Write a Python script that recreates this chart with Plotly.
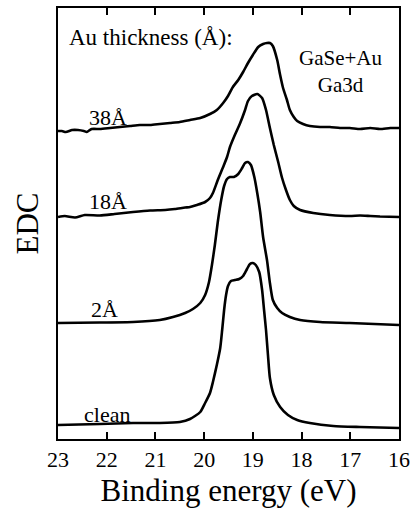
import plotly.graph_objects as go

# Ga 3d energy distribution curves (EDC) of GaSe with increasing Au coverage.
# Binding energy in eV; intensity in arbitrary units, curves vertically offset.

clean_energy = [23.00, 22.14, 21.46, 20.91, 20.50, 20.29, 20.08, 19.98, 19.88, 19.82,
                19.74, 19.67, 19.63, 19.59, 19.55, 19.51, 19.45, 19.37, 19.28, 19.20,
                19.12, 19.06, 19.00, 18.94, 18.87, 18.81, 18.77, 18.73, 18.69, 18.65,
                18.57, 18.44, 18.28, 18.09, 17.83, 17.35, 16.80, 16.00]
clean_intensity = [1.40, 1.50, 1.60, 1.60, 1.70, 2.00, 2.70, 3.60, 4.60, 5.70,
                   7.40, 9.10, 10.90, 12.90, 14.40, 15.30, 15.80, 15.90, 16.00, 16.30,
                   17.00, 17.50, 17.60, 17.40, 16.70, 14.90, 12.90, 10.90, 8.40, 6.10,
                   4.40, 3.20, 2.40, 1.90, 1.60, 1.30, 1.20, 1.10]

au2_energy = [23.00, 22.14, 21.46, 20.91, 20.64, 20.39, 20.23, 20.08, 19.98, 19.90,
              19.84, 19.78, 19.72, 19.65, 19.59, 19.53, 19.47, 19.39, 19.30, 19.22,
              19.16, 19.10, 19.04, 18.97, 18.91, 18.85, 18.79, 18.71, 18.65, 18.59,
              18.50, 18.40, 18.24, 18.03, 17.62, 17.01, 16.00]
au2_intensity = [11.60, 11.65, 11.70, 11.90, 12.20, 12.60, 13.00, 13.60, 14.40, 15.70,
                 17.40, 19.40, 21.70, 23.90, 25.30, 26.00, 26.20, 26.20, 26.50, 27.10,
                 27.60, 27.70, 27.40, 26.20, 24.60, 22.70, 20.20, 17.90, 15.60, 13.90,
                 13.10, 12.60, 12.20, 11.90, 11.70, 11.60, 11.40]

au18_energy = [23.00, 22.86, 22.65, 22.45, 22.14, 21.84, 21.46, 21.11, 20.80, 20.60,
               20.39, 20.29, 20.15, 19.98, 19.88, 19.82, 19.72, 19.61, 19.53, 19.47,
               19.37, 19.26, 19.16, 19.10, 19.02, 18.91, 18.81, 18.73, 18.65, 18.57,
               18.48, 18.40, 18.32, 18.24, 18.16, 18.03, 17.76, 17.42, 17.01, 16.80,
               16.59, 16.39, 16.00]
au18_intensity = [22.20, 22.30, 22.15, 22.40, 22.35, 22.50, 22.70, 22.85, 22.90, 23.00,
                  23.15, 23.20, 23.40, 23.70, 24.10, 24.60, 25.90, 27.20, 28.20, 29.20,
                  30.40, 31.60, 32.90, 33.80, 34.30, 34.50, 34.10, 32.90, 31.10, 29.40,
                  27.70, 26.10, 24.90, 23.90, 23.30, 22.90, 22.60, 22.40, 22.30, 22.35,
                  22.30, 22.25, 22.20]

au38_energy = [23.00, 22.92, 22.84, 22.71, 22.59, 22.47, 22.41, 22.31, 22.14, 21.93,
               21.73, 21.52, 21.32, 21.11, 20.91, 20.70, 20.50, 20.29, 20.08, 19.88,
               19.74, 19.61, 19.51, 19.41, 19.30, 19.20, 19.10, 19.00, 18.89, 18.79,
               18.71, 18.65, 18.59, 18.50, 18.44, 18.38, 18.30, 18.24, 18.16, 18.09,
               17.97, 17.83, 17.62, 17.42, 17.21, 17.01, 16.80, 16.59, 16.39, 16.18,
               16.00]
au38_intensity = [30.80, 30.80, 30.70, 30.90, 30.90, 30.80, 30.70, 31.00, 31.00, 31.10,
                  31.20, 31.30, 31.40, 31.40, 31.50, 31.60, 31.70, 31.90, 32.10, 32.50,
                  32.90, 33.60, 34.30, 35.20, 35.90, 36.70, 37.60, 38.40, 39.20, 39.50,
                  39.60, 39.60, 39.30, 37.90, 36.40, 35.10, 33.90, 32.90, 32.20, 31.80,
                  31.50, 31.30, 31.20, 31.20, 31.10, 31.10, 31.00, 31.10, 31.00, 31.10,
                  31.10]

series = [
    ("clean", clean_energy, clean_intensity),
    ("2Å", au2_energy, au2_intensity),
    ("18Å", au18_energy, au18_intensity),
    ("38Å", au38_energy, au38_intensity),
]

# label text, energy (eV), intensity position
curve_labels = [
    ("clean", 21.99, 2.5),
    ("2Å", 22.04, 13.0),
    ("18Å", 21.97, 23.8),
    ("38Å", 21.97, 32.2),
]

x_ticks = [23, 22, 21, 20, 19, 18, 17, 16]

SERIF = "Liberation Serif"

fig = go.Figure()
for name, e, inten in series:
    fig.add_trace(go.Scatter(
        x=e, y=inten, mode="lines", name=name,
        line=dict(color="black", width=2.6, shape="spline", smoothing=0.6),
        showlegend=False, hoverinfo="skip",
    ))

for text, xe, yi in curve_labels:
    fig.add_annotation(x=xe, y=yi, text=text, showarrow=False,
                       xanchor="center", yanchor="middle",
                       font=dict(family=SERIF, size=22, color="black"))

fig.add_annotation(x=22.82, y=40.2, text="Au thickness (Å):", showarrow=False,
                   xanchor="left", yanchor="middle",
                   font=dict(family=SERIF, size=23, color="black"))
fig.add_annotation(x=17.21, y=36.8, text="GaSe+Au<br>Ga3d", showarrow=False,
                   xanchor="center", yanchor="middle", align="center",
                   font=dict(family=SERIF, size=21, color="black"))

fig.update_xaxes(
    range=[23, 16], tickvals=x_ticks, ticktext=[str(t) for t in x_ticks],
    ticks="inside", ticklen=7, tickwidth=2, tickcolor="black",
    showline=True, linecolor="black", linewidth=2, mirror="ticks",
    showgrid=False, zeroline=False, automargin=False,
    tickfont=dict(family=SERIF, size=22, color="black"),
    title=dict(text="Binding energy (eV)", standoff=8,
               font=dict(family=SERIF, size=31, color="black")),
)
fig.update_yaxes(
    range=[0, 43.1], showticklabels=False, ticks="",
    showline=True, linecolor="black", linewidth=2, mirror=True,
    showgrid=False, zeroline=False, automargin=False,
    title=dict(text="EDC", standoff=8,
               font=dict(family=SERIF, size=31, color="black")),
)

fig.update_layout(
    width=412, height=510,
    margin=dict(l=58, r=13, t=8, b=71),
    plot_bgcolor="white", paper_bgcolor="white",
    font=dict(family=SERIF),
)

fig.write_html("out.html")
